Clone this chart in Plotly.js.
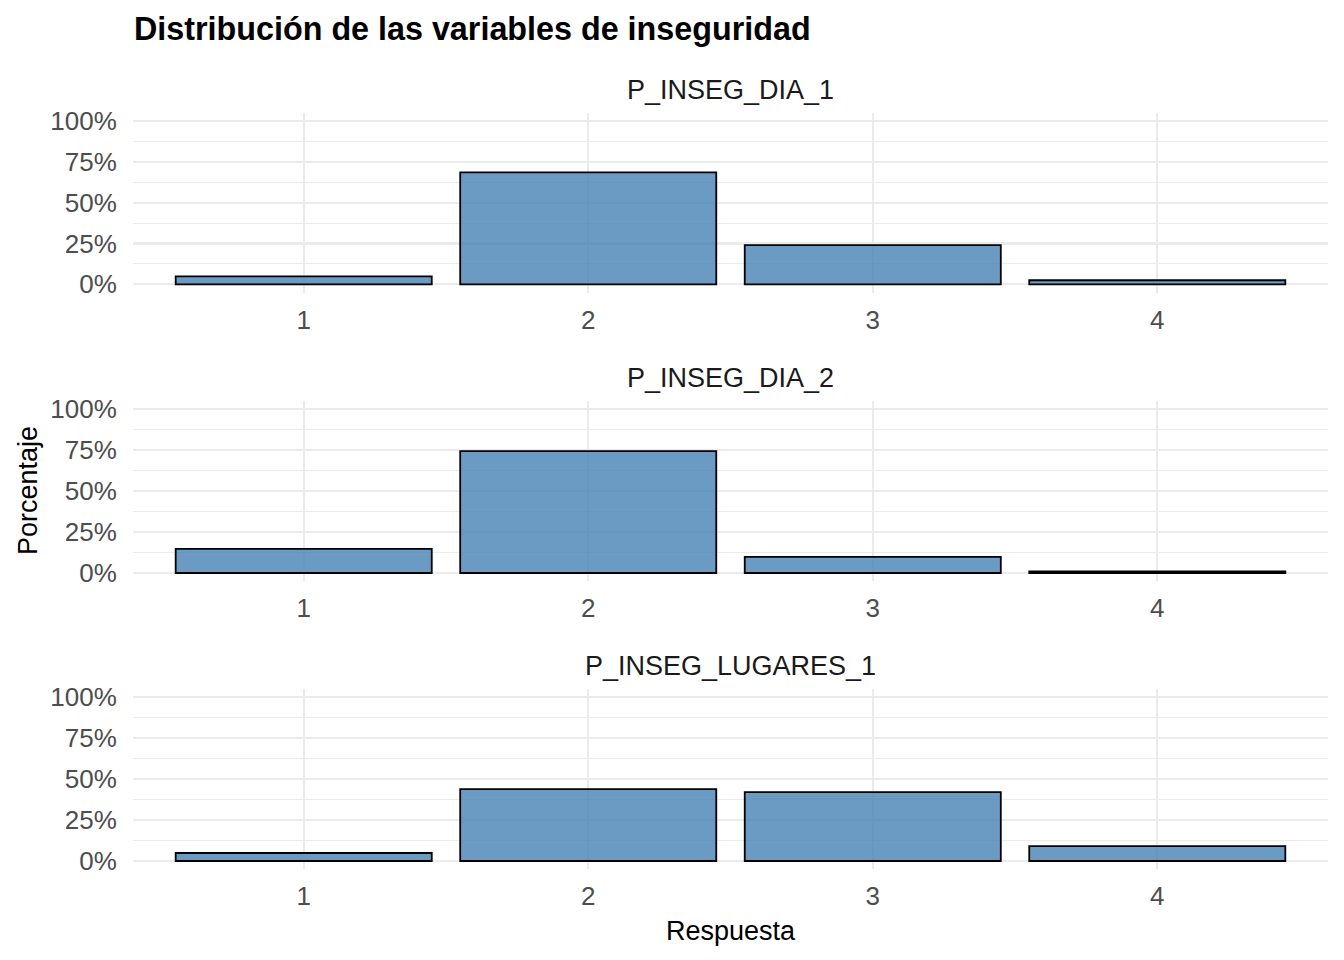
<!DOCTYPE html>
<html>
<head>
<meta charset="utf-8">
<script src="https://cdn.plot.ly/plotly-3.0.1.min.js"></script>
<style>html,body{margin:0;padding:0;background:#fff;}#chart{width:1344px;height:960px;}</style>
</head>
<body>
<div id="chart"></div>
<script>
// Data
const categories = ['1', '2', '3', '4'];
const variables = ['P_INSEG_DIA_1', 'P_INSEG_DIA_2', 'P_INSEG_LUGARES_1'];
const pInsegDia1 = [4.9, 68.6, 24.0, 2.5];
const pInsegDia2 = [14.7, 74.4, 9.9, 1.0];
const pInsegLugares1 = [4.9, 43.9, 42.1, 9.1];
const yTickVals = [0, 25, 50, 75, 100];
const yTickText = ['0%', '25%', '50%', '75%', '100%'];
const titleText = 'Distribución de las variables de inseguridad';
const xTitle = 'Respuesta';
const yTitle = 'Porcentaje';

const seriesList = [pInsegDia1, pInsegDia2, pInsegLugares1];
const W = 1344, H = 960;
const font = 'Liberation Sans, Arial, sans-serif';
// panel pixel extents (top, bottom)
const panels = [[113, 292.5], [401, 581.2], [689, 869.2]];
const xL = 133, xR = 1328;

const traces = [];
const layout = {
  width: W, height: H,
  margin: {l: 0, r: 0, t: 0, b: 0},
  paper_bgcolor: '#fff', plot_bgcolor: '#fff',
  showlegend: false,
  bargap: 0.1,
  font: {family: font, color: '#4d4d4d'},
  annotations: []
};

seriesList.forEach((vals, i) => {
  const n = i + 1;
  const xa = n === 1 ? 'x' : 'x' + n;
  const ya = n === 1 ? 'y' : 'y' + n;
  traces.push({
    type: 'bar', x: categories, y: vals, xaxis: xa, yaxis: ya,
    width: 0.9,
    marker: {color: 'rgba(70,130,180,0.8)', line: {color: '#000', width: 1.8}},
    hoverinfo: 'x+y'
  });
  const [top, bot] = panels[i];
  layout[n === 1 ? 'xaxis' : 'xaxis' + n] = {
    domain: [xL / W, xR / W], anchor: ya,
    type: 'category', range: [-0.6, 3.6],
    showgrid: true, gridcolor: '#ebebeb', gridwidth: 2.2,
    zeroline: false, showline: false,
    ticks: 'outside', ticklen: 4, tickcolor: 'rgba(0,0,0,0)',
    tickfont: {size: 26, color: '#4d4d4d', family: font}
  };
  layout[n === 1 ? 'yaxis' : 'yaxis' + n] = {
    domain: [1 - bot / H, 1 - top / H], anchor: xa,
    range: [-5, 105],
    tickvals: yTickVals, ticktext: yTickText,
    showgrid: true, gridcolor: '#ebebeb', gridwidth: 2.2,
    minor: {tickvals: [12.5, 37.5, 62.5, 87.5], showgrid: true, gridcolor: '#ebebeb', gridwidth: 1.1, ticks: ''},
    zeroline: false, showline: false,
    ticks: 'outside', ticklen: 10, tickcolor: 'rgba(0,0,0,0)',
    tickfont: {size: 26, color: '#4d4d4d', family: font}
  };
  layout.annotations.push({
    text: variables[i], xref: 'paper', yref: 'paper',
    x: (xL + xR) / 2 / W, y: 1 - (top - 23) / H,
    xanchor: 'center', yanchor: 'middle', showarrow: false,
    font: {size: 27, color: '#1a1a1a', family: font}
  });
});

layout.annotations.push({
  text: '<b>' + titleText + '</b>', xref: 'paper', yref: 'paper',
  x: 132 / W, y: 1 - 29 / H, xanchor: 'left', yanchor: 'middle', showarrow: false,
  font: {size: 32.3, color: '#000', family: font}
});
layout.annotations.push({
  text: xTitle, xref: 'paper', yref: 'paper',
  x: (xL + xR) / 2 / W, y: 1 - 931 / H, xanchor: 'center', yanchor: 'middle', showarrow: false,
  font: {size: 27, color: '#000', family: font}
});
layout.annotations.push({
  text: yTitle, xref: 'paper', yref: 'paper', textangle: -90,
  x: 28 / W, y: 1 - 491 / H, xanchor: 'center', yanchor: 'middle', showarrow: false,
  font: {size: 27, color: '#000', family: font}
});

Plotly.newPlot('chart', traces, layout, {displayModeBar: false, staticPlot: true});
</script>
</body>
</html>
